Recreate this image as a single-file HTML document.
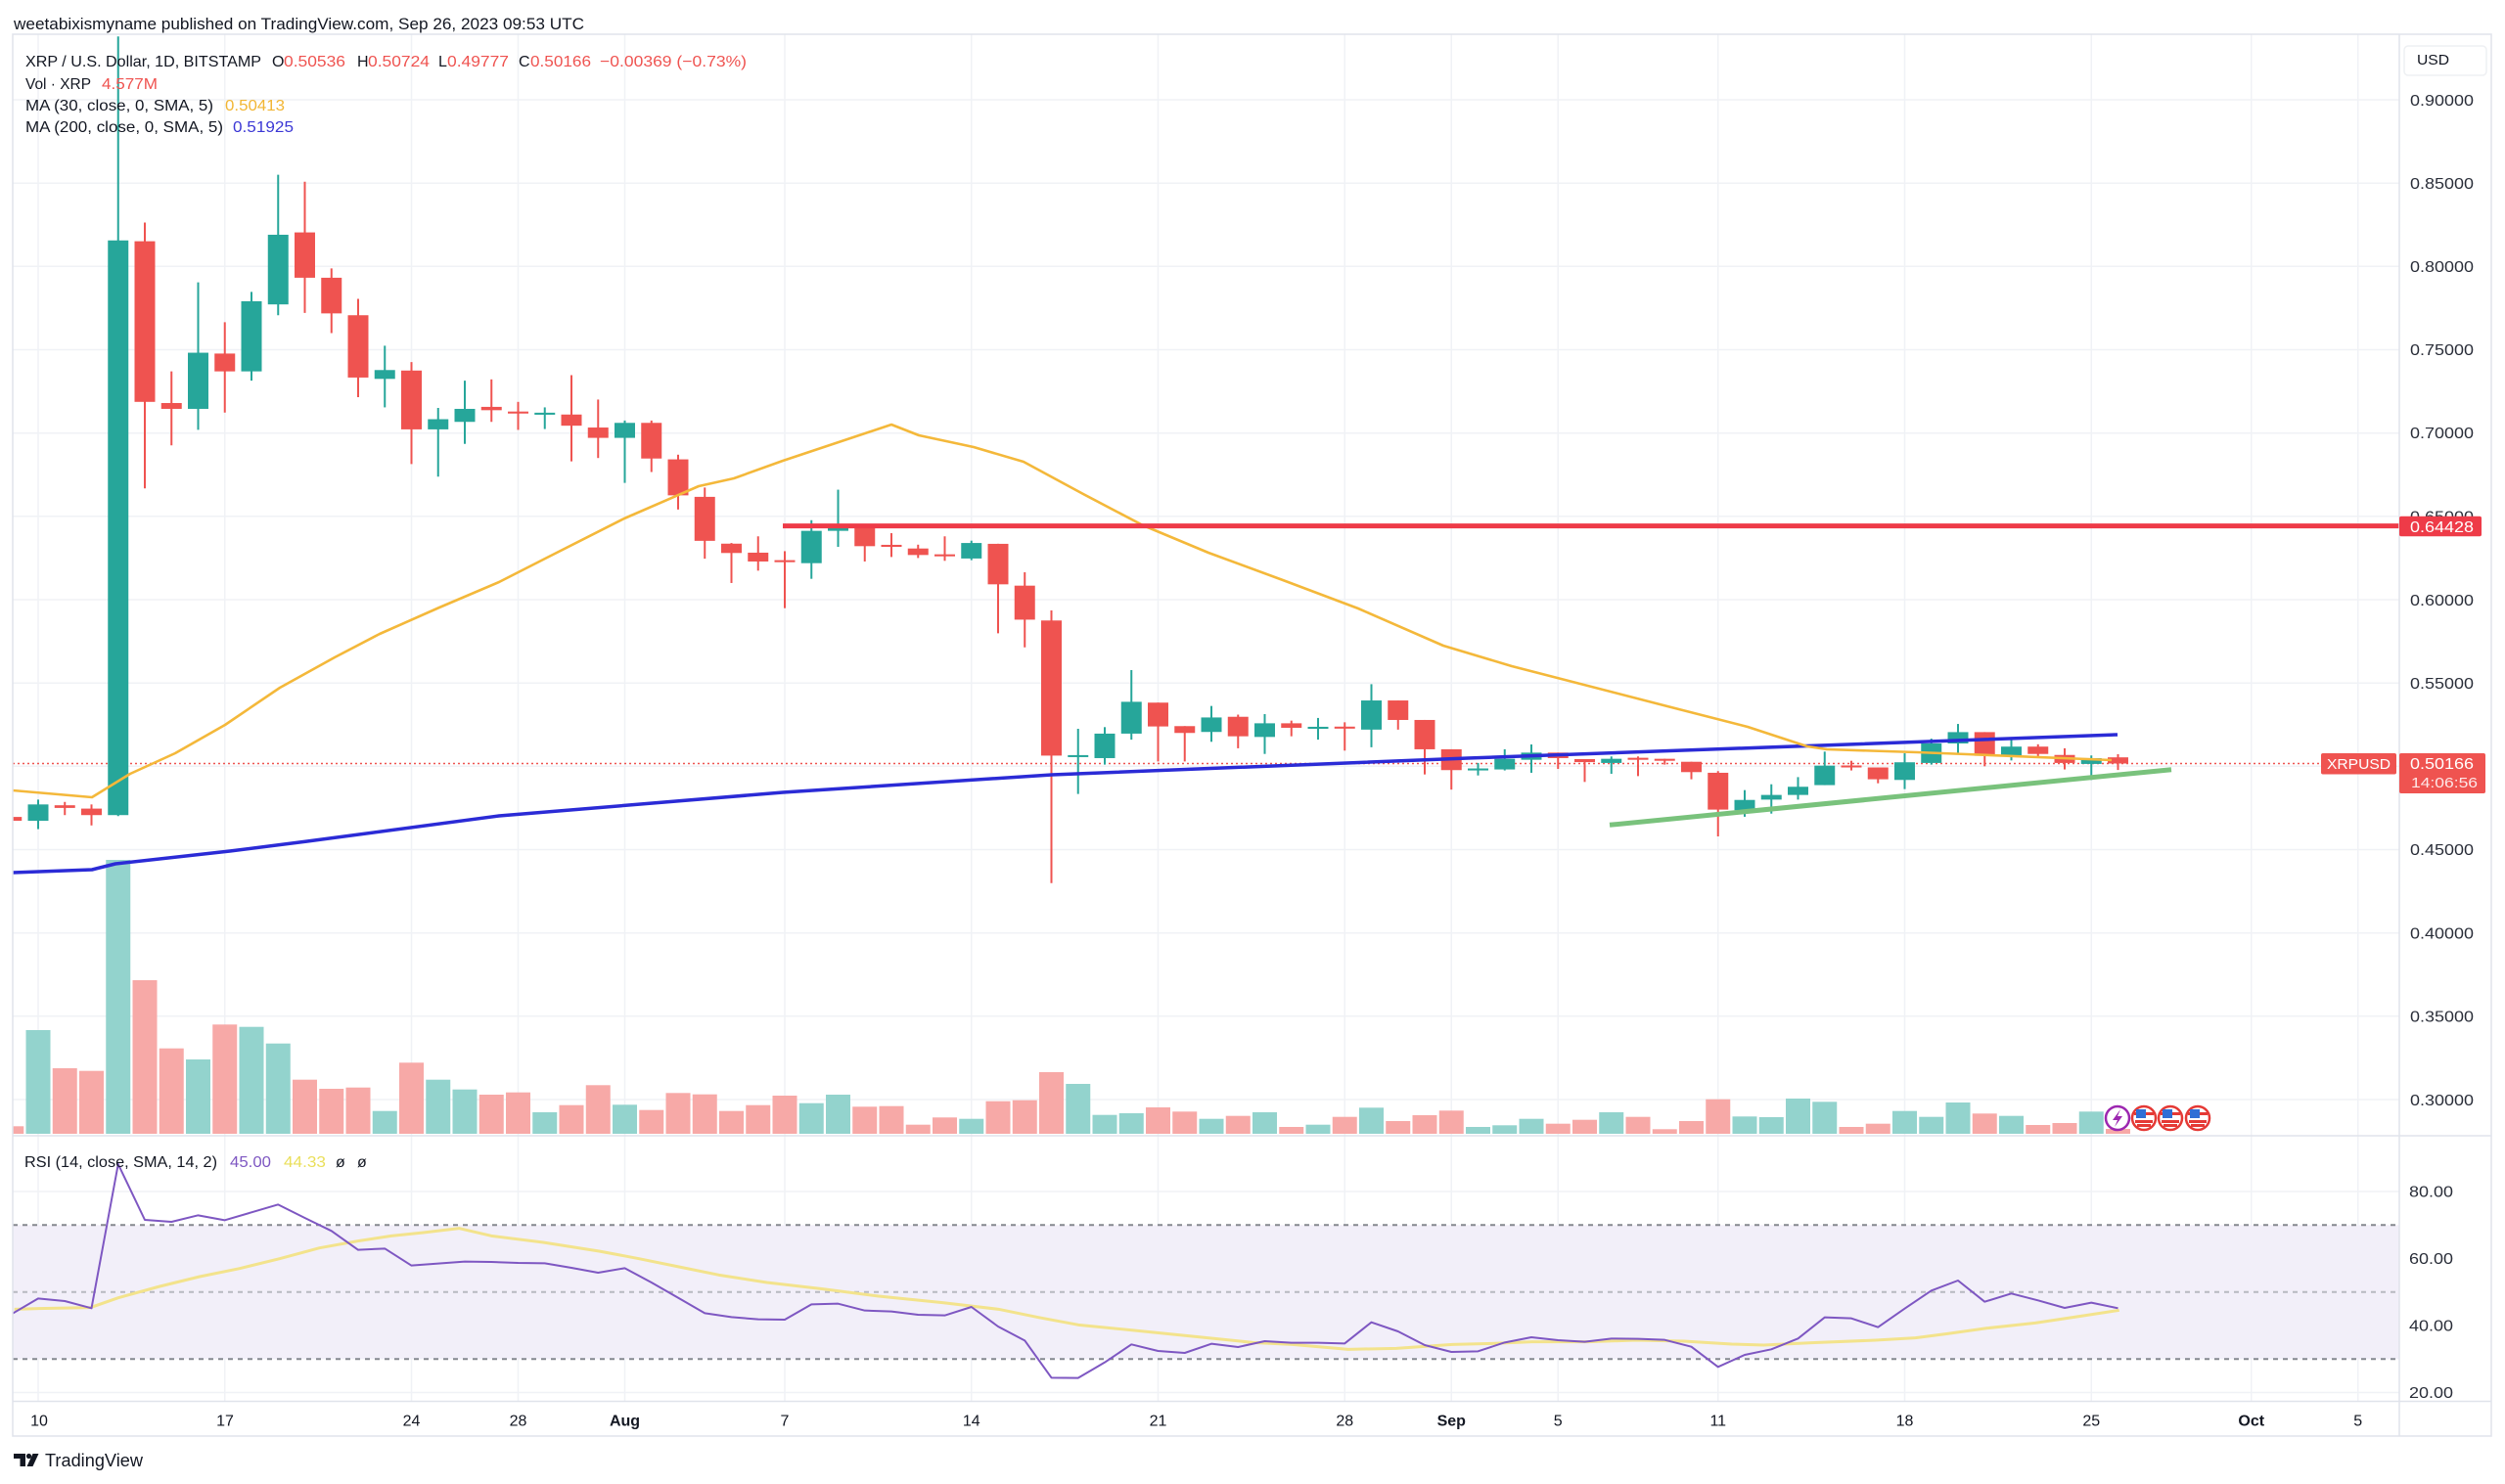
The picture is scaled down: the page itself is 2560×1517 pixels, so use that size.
<!DOCTYPE html>
<html><head><meta charset="utf-8"><style>
html,body{margin:0;padding:0;background:#fff;}
svg{display:block;font-family:"Liberation Sans",Arial,sans-serif;}
.nv{vector-effect:non-scaling-stroke;}
.cw line{vector-effect:non-scaling-stroke;stroke-width:2px;}
</style></head><body>
<svg width="2560" height="1517" viewBox="0 0 2560 1517" xmlns="http://www.w3.org/2000/svg">
<defs>
<clipPath id="cp"><rect x="13" y="35" width="2439" height="1125"/></clipPath>
<clipPath id="cr"><rect x="13" y="1162" width="2439" height="270"/></clipPath>
</defs>
<rect width="2560" height="1517" fill="#fff"/>

<!-- grid -->
<g stroke="#f0f2f6" stroke-width="1.5">
<line x1="13" y1="102" x2="2452" y2="102"/><line x1="13" y1="187.2" x2="2452" y2="187.2"/><line x1="13" y1="272.3" x2="2452" y2="272.3"/><line x1="13" y1="357.5" x2="2452" y2="357.5"/><line x1="13" y1="442.7" x2="2452" y2="442.7"/><line x1="13" y1="527.8" x2="2452" y2="527.8"/><line x1="13" y1="613" x2="2452" y2="613"/><line x1="13" y1="698.2" x2="2452" y2="698.2"/><line x1="13" y1="783.3" x2="2452" y2="783.3"/><line x1="13" y1="868.5" x2="2452" y2="868.5"/><line x1="13" y1="953.7" x2="2452" y2="953.7"/><line x1="13" y1="1038.8" x2="2452" y2="1038.8"/><line x1="13" y1="1124" x2="2452" y2="1124"/>
<line x1="13" y1="1218" x2="2452" y2="1218"/><line x1="13" y1="1286.5" x2="2452" y2="1286.5"/><line x1="13" y1="1355" x2="2452" y2="1355"/><line x1="13" y1="1423.5" x2="2452" y2="1423.5"/>
<line x1="39" y1="35" x2="39" y2="1432"/><line x1="229.75" y1="35" x2="229.75" y2="1432"/><line x1="420.5" y1="35" x2="420.5" y2="1432"/><line x1="529.5" y1="35" x2="529.5" y2="1432"/><line x1="638.5" y1="35" x2="638.5" y2="1432"/><line x1="802" y1="35" x2="802" y2="1432"/><line x1="992.75" y1="35" x2="992.75" y2="1432"/><line x1="1183.5" y1="35" x2="1183.5" y2="1432"/><line x1="1374.25" y1="35" x2="1374.25" y2="1432"/><line x1="1483.25" y1="35" x2="1483.25" y2="1432"/><line x1="1592.25" y1="35" x2="1592.25" y2="1432"/><line x1="1755.75" y1="35" x2="1755.75" y2="1432"/><line x1="1946.5" y1="35" x2="1946.5" y2="1432"/><line x1="2137.25" y1="35" x2="2137.25" y2="1432"/><line x1="2300.75" y1="35" x2="2300.75" y2="1432"/><line x1="2409.75" y1="35" x2="2409.75" y2="1432"/>
</g>

<!-- RSI band -->
<rect x="13" y="1252.3" width="2439" height="137" fill="#f2eff9"/>
<line x1="13" y1="1252.3" x2="2452" y2="1252.3" stroke="#85888f" stroke-width="2" stroke-dasharray="5 5"/>
<line x1="13" y1="1320.8" x2="2452" y2="1320.8" stroke="#b7b9c0" stroke-width="2" stroke-dasharray="5 5"/>
<line x1="13" y1="1389.3" x2="2452" y2="1389.3" stroke="#85888f" stroke-width="2" stroke-dasharray="5 5"/>

<g clip-path="url(#cp)">
<!-- volume -->
<g transform="matrix(27.25 0 0 -1 39 1159)">
<g fill="#93d3cd">
<rect x="-.4587" width=".9174" y="0" height="106"/><rect x="2.5413" width=".9174" y="0" height="280"/><rect x="5.5413" width=".9174" y="0" height="76"/><rect x="7.5413" width=".9174" y="0" height="109.3"/><rect x="8.5413" width=".9174" y="0" height="92.3"/><rect x="12.5413" width=".9174" y="0" height="23.3"/><rect x="14.5413" width=".9174" y="0" height="55.3"/><rect x="15.5413" width=".9174" y="0" height="45.3"/><rect x="18.5413" width=".9174" y="0" height="22"/><rect x="21.5413" width=".9174" y="0" height="29.7"/><rect x="28.5413" width=".9174" y="0" height="31.3"/><rect x="29.5413" width=".9174" y="0" height="40"/><rect x="34.5413" width=".9174" y="0" height="15.3"/><rect x="38.5413" width=".9174" y="0" height="51"/><rect x="39.5413" width=".9174" y="0" height="19.3"/><rect x="40.5413" width=".9174" y="0" height="21"/><rect x="43.5413" width=".9174" y="0" height="15.3"/><rect x="45.5413" width=".9174" y="0" height="22"/><rect x="47.5413" width=".9174" y="0" height="9.3"/><rect x="49.5413" width=".9174" y="0" height="26.7"/><rect x="53.5413" width=".9174" y="0" height="7"/><rect x="54.5413" width=".9174" y="0" height="8.7"/><rect x="55.5413" width=".9174" y="0" height="15.3"/><rect x="58.5413" width=".9174" y="0" height="22"/><rect x="63.5413" width=".9174" y="0" height="17.7"/><rect x="64.5413" width=".9174" y="0" height="17"/><rect x="65.5413" width=".9174" y="0" height="36"/><rect x="66.5413" width=".9174" y="0" height="32.7"/><rect x="69.5413" width=".9174" y="0" height="23.3"/><rect x="70.5413" width=".9174" y="0" height="17.3"/><rect x="71.5413" width=".9174" y="0" height="32"/><rect x="73.5413" width=".9174" y="0" height="18.3"/><rect x="76.5413" width=".9174" y="0" height="22.7"/>
</g>
<g fill="#f7a9a7">
<rect x="-1.4587" width=".9174" y="0" height="7.7"/><rect x=".5413" width=".9174" y="0" height="67"/><rect x="1.5413" width=".9174" y="0" height="64.3"/><rect x="3.5413" width=".9174" y="0" height="157"/><rect x="4.5413" width=".9174" y="0" height="87.3"/><rect x="6.5413" width=".9174" y="0" height="111.7"/><rect x="9.5413" width=".9174" y="0" height="55.3"/><rect x="10.5413" width=".9174" y="0" height="46"/><rect x="11.5413" width=".9174" y="0" height="47.3"/><rect x="13.5413" width=".9174" y="0" height="72.7"/><rect x="16.5413" width=".9174" y="0" height="40"/><rect x="17.5413" width=".9174" y="0" height="42.3"/><rect x="19.5413" width=".9174" y="0" height="29.3"/><rect x="20.5413" width=".9174" y="0" height="49.7"/><rect x="22.5413" width=".9174" y="0" height="24.3"/><rect x="23.5413" width=".9174" y="0" height="41.7"/><rect x="24.5413" width=".9174" y="0" height="40.3"/><rect x="25.5413" width=".9174" y="0" height="23.3"/><rect x="26.5413" width=".9174" y="0" height="29.3"/><rect x="27.5413" width=".9174" y="0" height="39"/><rect x="30.5413" width=".9174" y="0" height="27.7"/><rect x="31.5413" width=".9174" y="0" height="28.3"/><rect x="32.5413" width=".9174" y="0" height="9.3"/><rect x="33.5413" width=".9174" y="0" height="16.7"/><rect x="35.5413" width=".9174" y="0" height="33.3"/><rect x="36.5413" width=".9174" y="0" height="34.3"/><rect x="37.5413" width=".9174" y="0" height="63"/><rect x="41.5413" width=".9174" y="0" height="27"/><rect x="42.5413" width=".9174" y="0" height="22.7"/><rect x="44.5413" width=".9174" y="0" height="18.3"/><rect x="46.5413" width=".9174" y="0" height="7"/><rect x="48.5413" width=".9174" y="0" height="17.3"/><rect x="50.5413" width=".9174" y="0" height="13"/><rect x="51.5413" width=".9174" y="0" height="19"/><rect x="52.5413" width=".9174" y="0" height="23.7"/><rect x="56.5413" width=".9174" y="0" height="10.3"/><rect x="57.5413" width=".9174" y="0" height="14.3"/><rect x="59.5413" width=".9174" y="0" height="17.3"/><rect x="60.5413" width=".9174" y="0" height="4.7"/><rect x="61.5413" width=".9174" y="0" height="13"/><rect x="62.5413" width=".9174" y="0" height="35.3"/><rect x="67.5413" width=".9174" y="0" height="7"/><rect x="68.5413" width=".9174" y="0" height="10.3"/><rect x="72.5413" width=".9174" y="0" height="20.7"/><rect x="74.5413" width=".9174" y="0" height="9"/><rect x="75.5413" width=".9174" y="0" height="11"/><rect x="77.5413" width=".9174" y="0" height="5"/>
</g>
</g>

<!-- last price dotted line -->
<line x1="13" y1="780.5" x2="2372" y2="780.5" stroke="#ef5350" stroke-width="1.5" stroke-dasharray="2 3"/>

<!-- candles -->
<g class="cw" transform="matrix(27.25 0 0 -1703.3 39 1634.97)">
<g fill="#26a69a" stroke="#26a69a">
<line x1="0" y1=".4623" x2="0" y2=".480"/><line x1="3" y1=".4701" x2="3" y2=".938"/><line x1="6" y1=".7019" x2="6" y2=".7904"/><line x1="8" y1=".7314" x2="8" y2=".7847"/><line x1="9" y1=".7707" x2="9" y2=".855"/><line x1="13" y1=".7154" x2="13" y2=".7524"/><line x1="15" y1=".6738" x2="15" y2=".7151"/><line x1="16" y1=".6935" x2="16" y2=".7314"/><line x1="19" y1=".7024" x2="19" y2=".7154"/><line x1="22" y1=".6701" x2="22" y2=".7075"/><line x1="29" y1=".6125" x2="29" y2=".6477"/><line x1="30" y1=".6317" x2="30" y2=".6660"/><line x1="35" y1=".6237" x2="35" y2=".6354"/><line x1="39" y1=".4834" x2="39" y2=".5225"/><line x1="40" y1=".5010" x2="40" y2=".5235"/><line x1="41" y1=".5160" x2="41" y2=".5577"/><line x1="44" y1=".5147" x2="44" y2=".5362"/><line x1="46" y1=".5074" x2="46" y2=".5313"/><line x1="48" y1=".5160" x2="48" y2=".5290"/><line x1="50" y1=".5114" x2="50" y2=".5493"/><line x1="54" y1=".4945" x2="54" y2=".5020"/><line x1="55" y1=".4975" x2="55" y2=".5102"/><line x1="56" y1=".4961" x2="56" y2=".5131"/><line x1="59" y1=".4955" x2="59" y2=".5059"/><line x1="64" y1=".4697" x2="64" y2=".4857"/><line x1="65" y1=".4716" x2="65" y2=".4892"/><line x1="66" y1=".4800" x2="66" y2=".4935"/><line x1="67" y1=".4887" x2="67" y2=".5088"/><line x1="70" y1=".4863" x2="70" y2=".5078"/><line x1="71" y1=".5010" x2="71" y2=".5166"/><line x1="72" y1=".5074" x2="72" y2=".5254"/><line x1="74" y1=".5035" x2="74" y2=".5166"/><line x1="77" y1=".4918" x2="77" y2=".5065"/>
<g stroke="none">
<rect x="-.385" y=".4673" width=".77" height=".0098"/><rect x="2.615" y=".4707" width=".77" height=".3449"/><rect x="5.615" y=".7145" width=".77" height=".0337"/><rect x="7.615" y=".7370" width=".77" height=".0421"/><rect x="8.615" y=".7772" width=".77" height=".0418"/><rect x="12.615" y=".7325" width=".77" height=".0053"/><rect x="14.615" y=".7022" width=".77" height=".0061"/><rect x="15.615" y=".7067" width=".77" height=".0078"/><rect x="18.615" y=".7110" width=".77" height=".0012"/><rect x="21.615" y=".6971" width=".77" height=".0090"/><rect x="28.615" y=".6219" width=".77" height=".0194"/><rect x="29.615" y=".6413" width=".77" height=".0016"/><rect x="34.615" y=".6247" width=".77" height=".0093"/><rect x="38.615" y=".5055" width=".77" height=".0012"/><rect x="39.615" y=".5049" width=".77" height=".0147"/><rect x="40.615" y=".5196" width=".77" height=".0191"/><rect x="43.615" y=".5206" width=".77" height=".0087"/><rect x="45.615" y=".5176" width=".77" height=".0082"/><rect x="47.615" y=".5225" width=".77" height=".0012"/><rect x="49.615" y=".5220" width=".77" height=".0175"/><rect x="53.615" y=".4975" width=".77" height=".0012"/><rect x="54.615" y=".4981" width=".77" height=".0064"/><rect x="55.615" y=".5039" width=".77" height=".0043"/><rect x="58.615" y=".5020" width=".77" height=".0025"/><rect x="63.615" y=".4736" width=".77" height=".0062"/><rect x="64.615" y=".4800" width=".77" height=".0028"/><rect x="65.615" y=".4828" width=".77" height=".0049"/><rect x="66.615" y=".4887" width=".77" height=".0117"/><rect x="69.615" y=".4918" width=".77" height=".0106"/><rect x="70.615" y=".5020" width=".77" height=".0117"/><rect x="71.615" y=".5137" width=".77" height=".0068"/><rect x="73.615" y=".5063" width=".77" height=".0055"/><rect x="76.615" y=".5014" width=".77" height=".0035"/>
</g>
</g>
<g fill="#ef5350" stroke="#ef5350">
<line x1="-1" y1=".466" x2="-1" y2=".470"/><line x1="1" y1=".4707" x2="1" y2=".4786"/><line x1="2" y1=".4645" x2="2" y2=".4771"/><line x1="4" y1=".6668" x2="4" y2=".8263"/><line x1="5" y1=".6926" x2="5" y2=".737"/><line x1="7" y1=".7123" x2="7" y2=".7665"/><line x1="10" y1=".7721" x2="10" y2=".8508"/><line x1="11" y1=".76" x2="11" y2=".7988"/><line x1="12" y1=".7215" x2="12" y2=".7805"/><line x1="14" y1=".6814" x2="14" y2=".7426"/><line x1="17" y1=".7067" x2="17" y2=".7322"/><line x1="18" y1=".7019" x2="18" y2=".7187"/><line x1="20" y1=".683" x2="20" y2=".7347"/><line x1="21" y1=".685" x2="21" y2=".7201"/><line x1="23" y1=".6766" x2="23" y2=".7075"/><line x1="24" y1=".6541" x2="24" y2=".687"/><line x1="25" y1=".6246" x2="25" y2=".6673"/><line x1="26" y1=".61" x2="26" y2=".634"/><line x1="27" y1=".6174" x2="27" y2=".638"/><line x1="28" y1=".5949" x2="28" y2=".6291"/><line x1="31" y1=".6229" x2="31" y2=".645"/><line x1="32" y1=".6256" x2="32" y2=".6399"/><line x1="33" y1=".625" x2="33" y2=".633"/><line x1="34" y1=".6233" x2="34" y2=".638"/><line x1="36" y1=".5798" x2="36" y2=".6335"/><line x1="37" y1=".5714" x2="37" y2=".6164"/><line x1="38" y1=".4299" x2="38" y2=".5935"/><line x1="42" y1=".5029" x2="42" y2=".5382"/><line x1="43" y1=".5029" x2="43" y2=".5241"/><line x1="45" y1=".5108" x2="45" y2=".531"/><line x1="47" y1=".518" x2="47" y2=".5274"/><line x1="49" y1=".5094" x2="49" y2=".5264"/><line x1="51" y1=".522" x2="51" y2=".5395"/><line x1="52" y1=".4951" x2="52" y2=".5278"/><line x1="53" y1=".486" x2="53" y2=".5102"/><line x1="57" y1=".4984" x2="57" y2=".5082"/><line x1="58" y1=".4906" x2="58" y2=".5043"/><line x1="60" y1=".4941" x2="60" y2=".5059"/><line x1="61" y1=".501" x2="61" y2=".5045"/><line x1="62" y1=".4922" x2="62" y2=".5027"/><line x1="63" y1=".4579" x2="63" y2=".4971"/><line x1="68" y1=".4975" x2="68" y2=".5033"/><line x1="69" y1=".4898" x2="69" y2=".4993"/><line x1="73" y1=".5" x2="73" y2=".5205"/><line x1="75" y1=".5055" x2="75" y2=".5132"/><line x1="76" y1=".4981" x2="76" y2=".5108"/><line x1="78" y1=".49777" x2="78" y2=".50724"/>
<g stroke="none">
<rect x="-1.385" y=".4673" width=".77" height=".0023"/><rect x=".615" y=".4750" width=".77" height=".0016"/><rect x="1.615" y=".4707" width=".77" height=".0039"/><rect x="3.615" y=".7187" width=".77" height=".0964"/><rect x="4.615" y=".7145" width=".77" height=".0035"/><rect x="6.615" y=".7370" width=".77" height=".0107"/><rect x="9.615" y=".7932" width=".77" height=".0272"/><rect x="10.615" y=".7718" width=".77" height=".0214"/><rect x="11.615" y=".7333" width=".77" height=".0374"/><rect x="13.615" y=".7022" width=".77" height=".0353"/><rect x="16.615" y=".7137" width=".77" height=".0020"/><rect x="17.615" y=".7117" width=".77" height=".0012"/><rect x="19.615" y=".7044" width=".77" height=".0067"/><rect x="20.615" y=".6971" width=".77" height=".0062"/><rect x="22.615" y=".6847" width=".77" height=".0214"/><rect x="23.615" y=".6626" width=".77" height=".0216"/><rect x="24.615" y=".6353" width=".77" height=".0264"/><rect x="25.615" y=".6280" width=".77" height=".0056"/><rect x="26.615" y=".6229" width=".77" height=".0053"/><rect x="27.615" y=".6225" width=".77" height=".0012"/><rect x="30.615" y=".6321" width=".77" height=".0124"/><rect x="31.615" y=".6317" width=".77" height=".0012"/><rect x="32.615" y=".6268" width=".77" height=".0039"/><rect x="33.615" y=".6260" width=".77" height=".0012"/><rect x="35.615" y=".6092" width=".77" height=".0243"/><rect x="36.615" y=".5880" width=".77" height=".0204"/><rect x="37.615" y=".5064" width=".77" height=".0811"/><rect x="41.615" y=".5239" width=".77" height=".0143"/><rect x="42.615" y=".5200" width=".77" height=".0041"/><rect x="44.615" y=".5180" width=".77" height=".0117"/><rect x="46.615" y=".5231" width=".77" height=".0027"/><rect x="48.615" y=".5226" width=".77" height=".0012"/><rect x="50.615" y=".5278" width=".77" height=".0117"/><rect x="51.615" y=".5102" width=".77" height=".0176"/><rect x="52.615" y=".4977" width=".77" height=".0125"/><rect x="56.615" y=".5049" width=".77" height=".0033"/><rect x="57.615" y=".5025" width=".77" height=".0018"/><rect x="59.615" y=".5039" width=".77" height=".0012"/><rect x="60.615" y=".5033" width=".77" height=".0012"/><rect x="61.615" y=".4965" width=".77" height=".0062"/><rect x="62.615" y=".4740" width=".77" height=".0221"/><rect x="67.615" y=".4993" width=".77" height=".0012"/><rect x="68.615" y=".4922" width=".77" height=".0071"/><rect x="72.615" y=".5063" width=".77" height=".0142"/><rect x="74.615" y=".5074" width=".77" height=".0044"/><rect x="75.615" y=".5020" width=".77" height=".0048"/><rect x="77.615" y=".50166" width=".77" height=".0037"/>
</g>
</g>
</g>

<!-- MA200 -->
<polyline fill="none" stroke="#2b2bd6" stroke-width="3.5" stroke-linejoin="round" points="13,892 94,889 118,883 235,870 314,860 510,834 800,810 1075,792 1500,775 2164,751"/>
<!-- MA30 -->
<polyline fill="none" stroke="#f4b83a" stroke-width="2.6" stroke-linejoin="round" points="13,808 94,815 133,791 179,770 230,741 286,703 342,672 388,648 449,621 510,595 561,569 638,530 714,497 750,489 800,471 911,434 939,445 995,457 1046,472 1107,505 1168,537 1235,565 1311,593 1388,622 1475,660 1545,681 1704,722 1786,743 1847,763 1867,766 1959,769 2010,771 2158,777"/>
<!-- resistance line -->
<line x1="800" y1="537.6" x2="2452" y2="537.6" stroke="#ee3b48" stroke-width="5"/>
<!-- support trendline -->
<line x1="1645" y1="843.3" x2="2219" y2="786.7" stroke="#79c27c" stroke-width="5"/>

<!-- event icons -->
<circle cx="2164" cy="1143" r="12" fill="#fff" stroke="#9c27b0" stroke-width="2.5"/>
<path d="M2167 1134 L2159 1145 L2164 1145 L2161 1152 L2169 1141 L2164 1141 Z" fill="#9c27b0"/>
<g>
<circle cx="2191" cy="1143" r="12" fill="#fff" stroke="#e53935" stroke-width="2.5"/>
<rect x="2181" y="1137" width="20" height="3" fill="#e53935"/><rect x="2182" y="1145" width="18" height="3" fill="#e53935"/><rect x="2184" y="1149" width="14" height="3" fill="#e53935"/>
<rect x="2183" y="1134" width="10" height="9" fill="#2f6fd6"/>
</g>
<g>
<circle cx="2218" cy="1143" r="12" fill="#fff" stroke="#e53935" stroke-width="2.5"/>
<rect x="2208" y="1137" width="20" height="3" fill="#e53935"/><rect x="2209" y="1145" width="18" height="3" fill="#e53935"/><rect x="2211" y="1149" width="14" height="3" fill="#e53935"/>
<rect x="2210" y="1134" width="10" height="9" fill="#2f6fd6"/>
</g>
<g>
<circle cx="2246" cy="1143" r="12" fill="#fff" stroke="#e53935" stroke-width="2.5"/>
<rect x="2236" y="1137" width="20" height="3" fill="#e53935"/><rect x="2237" y="1145" width="18" height="3" fill="#e53935"/><rect x="2239" y="1149" width="14" height="3" fill="#e53935"/>
<rect x="2238" y="1134" width="10" height="9" fill="#2f6fd6"/>
</g>
</g>

<!-- RSI lines -->
<g clip-path="url(#cr)">
<polyline class="nv" fill="none" stroke="#f3e38c" stroke-width="3" stroke-linejoin="round" transform="matrix(0.81633 0 0 0.33333 0 1155)" points="18,550 48,548 113,545 148,515 200,480 250,450 300,425 350,395 400,362 450,340 490,325 530,315 575,302 615,325 680,345 750,372 800,395 850,420 900,445 960,468 1030,488 1100,510 1180,530 1250,550 1300,575 1350,598 1420,615 1500,635 1568,652 1618,658 1688,673 1748,670 1818,658 1868,655 1918,650 1988,650 2048,645 2108,648 2168,657 2208,660 2268,653 2348,645 2398,638 2438,625 2488,608 2548,592 2608,570 2653,553"/>
<polyline class="nv" fill="none" stroke="#7e57c2" stroke-width="2" stroke-linejoin="round" transform="matrix(27.25 0 0 0.33333 39 1155)" points="-1,565 0,517 1,525 2,547 3,105 4,276 5,282 6,262 7,277 8,253 9,229 10,270 11,310 12,368 13,364 14,416 15,410 16,404 17,405 18,408 19,409 20,423 21,438 22,424 23,468 24,515 25,562 26,574 27,581 28,582 29,535 30,533 31,554 32,557 33,567 34,569 35,543 36,603 37,646 38,760 39,761 40,713 41,658 42,678 43,684 44,656 45,666 46,648 47,653 48,653 49,655 50,590 51,618 52,660 53,681 54,679 55,652 56,636 57,645 58,650 59,640 60,641 61,644 62,665 63,727 64,690 65,673 66,640 67,575 68,578 69,605 70,548 71,493 72,462 73,527 74,502 75,523 76,546 77,530 78,547"/>
</g>

<!-- frame -->
<g stroke="#e0e3eb" stroke-width="1.5" fill="none">
<rect x="13" y="35" width="2533" height="1433"/>
<line x1="2452" y1="35" x2="2452" y2="1468"/>
<line x1="13" y1="1161" x2="2546" y2="1161"/>
<line x1="13" y1="1432.5" x2="2546" y2="1432.5"/>
</g>

<!-- price axis labels -->
<g font-size="16" fill="#2a2e39">
<text x="2463" y="108" textLength="65" lengthAdjust="spacingAndGlyphs">0.90000</text>
<text x="2463" y="193" textLength="65" lengthAdjust="spacingAndGlyphs">0.85000</text>
<text x="2463" y="278" textLength="65" lengthAdjust="spacingAndGlyphs">0.80000</text>
<text x="2463" y="363" textLength="65" lengthAdjust="spacingAndGlyphs">0.75000</text>
<text x="2463" y="448" textLength="65" lengthAdjust="spacingAndGlyphs">0.70000</text>
<text x="2463" y="533.5" textLength="65" lengthAdjust="spacingAndGlyphs">0.65000</text>
<text x="2463" y="619" textLength="65" lengthAdjust="spacingAndGlyphs">0.60000</text>
<text x="2463" y="704" textLength="65" lengthAdjust="spacingAndGlyphs">0.55000</text>
<text x="2463" y="874" textLength="65" lengthAdjust="spacingAndGlyphs">0.45000</text>
<text x="2463" y="959.5" textLength="65" lengthAdjust="spacingAndGlyphs">0.40000</text>
<text x="2463" y="1044.5" textLength="65" lengthAdjust="spacingAndGlyphs">0.35000</text>
<text x="2463" y="1130" textLength="65" lengthAdjust="spacingAndGlyphs">0.30000</text>
<text x="2462" y="1223.5" textLength="45" lengthAdjust="spacingAndGlyphs">80.00</text>
<text x="2462" y="1292" textLength="45" lengthAdjust="spacingAndGlyphs">60.00</text>
<text x="2462" y="1360.5" textLength="45" lengthAdjust="spacingAndGlyphs">40.00</text>
<text x="2462" y="1429" textLength="45" lengthAdjust="spacingAndGlyphs">20.00</text>
</g>
<rect x="2457" y="47" width="84" height="30" rx="4" fill="#fff" stroke="#eef0f3" stroke-width="1.5"/>
<text x="2470" y="66" font-size="15" fill="#131722" textLength="33" lengthAdjust="spacingAndGlyphs">USD</text>

<!-- price tags -->
<rect x="2452" y="527.7" width="84" height="20.5" rx="2" fill="#ee3b48"/>
<text x="2463" y="544" font-size="16" fill="#fff" textLength="65" lengthAdjust="spacingAndGlyphs">0.64428</text>
<rect x="2372" y="770" width="77" height="21.5" rx="2" fill="#ef5350"/>
<text x="2378" y="786" font-size="15" fill="#fff" textLength="65" lengthAdjust="spacingAndGlyphs">XRPUSD</text>
<rect x="2452" y="770" width="88" height="41" rx="2" fill="#ef5350"/>
<text x="2463" y="786" font-size="16" fill="#fff" textLength="65" lengthAdjust="spacingAndGlyphs">0.50166</text>
<text x="2464" y="805" font-size="15" fill="#fde7e7" textLength="68" lengthAdjust="spacingAndGlyphs">14:06:56</text>

<!-- time axis -->
<g font-size="16" fill="#131722" text-anchor="middle">
<text x="40" y="1457.5">10</text>
<text x="230" y="1457.5">17</text>
<text x="420.5" y="1457.5">24</text>
<text x="529.5" y="1457.5">28</text>
<text x="638.5" y="1457.5" font-weight="bold">Aug</text>
<text x="802" y="1457.5">7</text>
<text x="992.75" y="1457.5">14</text>
<text x="1183.5" y="1457.5">21</text>
<text x="1374.25" y="1457.5">28</text>
<text x="1483.25" y="1457.5" font-weight="bold">Sep</text>
<text x="1592.25" y="1457.5">5</text>
<text x="1755.75" y="1457.5">11</text>
<text x="1946.5" y="1457.5">18</text>
<text x="2137.25" y="1457.5">25</text>
<text x="2300.75" y="1457.5" font-weight="bold">Oct</text>
<text x="2409.75" y="1457.5">5</text>
</g>

<!-- header and legends -->
<text x="14" y="30" font-size="17" fill="#131722" textLength="583" lengthAdjust="spacingAndGlyphs">weetabixismyname published on TradingView.com, Sep 26, 2023 09:53 UTC</text>
<g font-size="16" fill="#131722">
<text x="26" y="68" textLength="241" lengthAdjust="spacingAndGlyphs">XRP / U.S. Dollar, 1D, BITSTAMP</text>
<text x="278" y="68">O</text><text x="290" y="68" fill="#ef5350" textLength="63" lengthAdjust="spacingAndGlyphs">0.50536</text>
<text x="365" y="68">H</text><text x="376" y="68" fill="#ef5350" textLength="63" lengthAdjust="spacingAndGlyphs">0.50724</text>
<text x="448" y="68">L</text><text x="457" y="68" fill="#ef5350" textLength="63" lengthAdjust="spacingAndGlyphs">0.49777</text>
<text x="530" y="68">C</text><text x="542" y="68" fill="#ef5350" textLength="62" lengthAdjust="spacingAndGlyphs">0.50166</text>
<text x="613" y="68" fill="#ef5350" textLength="150" lengthAdjust="spacingAndGlyphs">−0.00369 (−0.73%)</text>
<text x="26" y="91" textLength="67" lengthAdjust="spacingAndGlyphs">Vol · XRP</text>
<text x="104" y="91" fill="#ef5350" textLength="57" lengthAdjust="spacingAndGlyphs">4.577M</text>
<text x="26" y="113" textLength="192" lengthAdjust="spacingAndGlyphs">MA (30, close, 0, SMA, 5)</text>
<text x="230" y="113" fill="#f2b634" textLength="61" lengthAdjust="spacingAndGlyphs">0.50413</text>
<text x="26" y="135" textLength="202" lengthAdjust="spacingAndGlyphs">MA (200, close, 0, SMA, 5)</text>
<text x="238" y="135" fill="#3b37d5" textLength="62" lengthAdjust="spacingAndGlyphs">0.51925</text>
<text x="25" y="1193" textLength="197" lengthAdjust="spacingAndGlyphs">RSI (14, close, SMA, 14, 2)</text>
<text x="235" y="1193" fill="#7e57c2" textLength="42" lengthAdjust="spacingAndGlyphs">45.00</text>
<text x="290" y="1193" fill="#eadf5a" textLength="43" lengthAdjust="spacingAndGlyphs">44.33</text>
<text x="343" y="1193">ø</text>
<text x="365" y="1193">ø</text>
</g>

<!-- TradingView logo -->
<g fill="#131722">
<path d="M14 1486 H26 V1499 H20.5 V1491 H14 Z"/>
<circle cx="29.5" cy="1488.5" r="2.6"/>
<path d="M33.5 1486 H39.5 L33.5 1499 H27.5 Z"/>
</g>
<text x="46" y="1499" font-size="18" fill="#131722" textLength="100" lengthAdjust="spacingAndGlyphs">TradingView</text>
</svg>
</body></html>
